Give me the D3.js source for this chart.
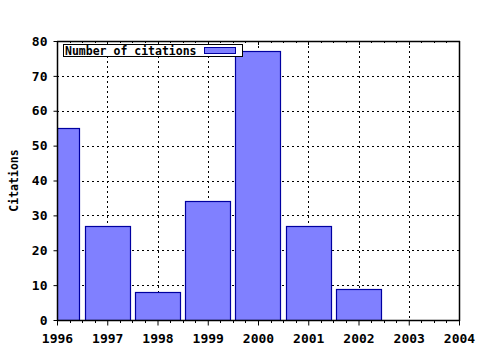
<!DOCTYPE html>
<html>
<head>
<meta charset="utf-8">
<script src="https://cdn.jsdelivr.net/npm/d3@7"></script>
<style>
  body { margin: 0; background: #fff; }
  text { font-family: "DejaVu Sans Mono", "Liberation Mono", monospace; font-weight: bold; }
</style>
</head>
<body>
<script>
(function all (){
  //chart data
  var years = [1996, 1997, 1998, 1999, 2000, 2001, 2002, 2003];
  var citations = [55, 27, 8, 34, 77, 27, 9, 0];
  var yTicks = [0, 10, 20, 30, 40, 50, 60, 70, 80];
  var xTicks = [1996, 1997, 1998, 1999, 2000, 2001, 2002, 2003, 2004];
  var seriesName = "Number of citations";
  var yTitle = "Citations";

  var width = 480, height = 350;
  var left = 57, right = 459, top = 41, bottom = 320;

  var svg = d3.select("body").append("svg")
    .attr("width", width)
    .attr("height", height);

  var x = d3.scaleLinear().domain([1996, 2004]).range([left, right]);
  var y = d3.scaleLinear().domain([0, 80]).range([bottom, top]);

  //clip for bars so the first one is cut at the axis
  svg.append("clipPath").attr("id", "plot")
    .append("rect")
    .attr("x", left).attr("y", top)
    .attr("width", right - left).attr("height", bottom - top);

  //dotted grid
  var grid = svg.append("g")
    .attr("stroke", "#000")
    .attr("stroke-width", 1)
    .attr("stroke-dasharray", "2,3");
  grid.selectAll(".hg")
    .data(yTicks.filter(function(d){ return d > 0 && d < 80; }))
    .enter().append("line")
    .attr("x1", left).attr("x2", right)
    .attr("y1", function(d){ return Math.round(y(d)) + 0.5; })
    .attr("y2", function(d){ return Math.round(y(d)) + 0.5; });
  grid.selectAll(".vg")
    .data(xTicks.filter(function(d){ return d > 1996 && d < 2004; }))
    .enter().append("line")
    .attr("y1", top).attr("y2", bottom)
    .attr("x1", function(d){ return Math.round(x(d)) + 0.5; })
    .attr("x2", function(d){ return Math.round(x(d)) + 0.5; });

  //bars, centered on the year
  var barW = (x(1997) - x(1996)) * 0.9;
  svg.append("g")
    .attr("clip-path", "url(#plot)")
    .selectAll("rect")
    .data(years.map(function(d, i){ return {year: d, value: citations[i]}; })
      .filter(function(d){ return d.value > 0; }))
    .enter().append("rect")
    .attr("x", function(d){ return Math.round(x(d.year) - barW / 2) + 0.5; })
    .attr("y", function(d){ return Math.round(y(d.value)) + 0.5; })
    .attr("width", Math.round(barW))
    .attr("height", function(d){ return Math.round(y(0)) - Math.round(y(d.value)); })
    .attr("fill", "#8080ff")
    .attr("stroke", "#0000a0")
    .attr("stroke-width", 1.2);

  //frame axes
  var xAxis = d3.axisBottom(x).tickValues(xTicks).tickFormat(d3.format("d"))
    .tickSize(5).tickPadding(8);
  var gx = svg.append("g")
    .attr("transform", "translate(0," + (bottom + 0.5) + ")")
    .call(xAxis);
  var yAxis = d3.axisLeft(y).tickValues(yTicks).tickSize(4).tickPadding(6);
  var gy = svg.append("g")
    .attr("transform", "translate(" + (left + 0.5) + ",0)")
    .call(yAxis);
  [gx, gy].forEach(function(g){
    g.select(".domain").remove();
    g.selectAll("line").attr("stroke", "#000");
    g.selectAll("text").attr("font-size", 13).attr("fill", "#000")
      .style("font-family", "DejaVu Sans Mono, monospace").style("font-weight", "bold");
  });

  //minor ticks every quarter year, below bottom and below top
  var minors = d3.range(1996, 2004.01, 0.25).filter(function(d){ return d % 1 !== 0; });
  svg.append("g").attr("stroke", "#000").selectAll("line")
    .data(minors).enter().append("line")
    .attr("x1", function(d){ return Math.round(x(d)) + 0.5; })
    .attr("x2", function(d){ return Math.round(x(d)) + 0.5; })
    .attr("y1", bottom).attr("y2", bottom + 3);
  svg.append("g").attr("stroke", "#000").selectAll("line")
    .data(d3.range(1996, 2004.01, 0.25)).enter().append("line")
    .attr("x1", function(d){ return Math.round(x(d)) + 0.5; })
    .attr("x2", function(d){ return Math.round(x(d)) + 0.5; })
    .attr("y1", top).attr("y2", function(d){ return top + (d % 1 === 0 ? 4 : 2); });

  //axis lines
  var frame = svg.append("g").attr("stroke", "#000").attr("stroke-width", 1.5);
  frame.append("line").attr("x1", left).attr("x2", right + 1).attr("y1", bottom + 0.5).attr("y2", bottom + 0.5);
  frame.append("line").attr("x1", left + 0.5).attr("x2", left + 0.5).attr("y1", top).attr("y2", bottom + 1);
  frame.append("line").attr("x1", left).attr("x2", right + 1).attr("y1", top + 0.5).attr("y2", top + 0.5);
  frame.append("line").attr("x1", right + 0.5).attr("x2", right + 0.5).attr("y1", top).attr("y2", bottom + 1);

  //y title
  svg.append("text")
    .attr("transform", "translate(18," + ((top + bottom) / 2) + ") rotate(-90)")
    .attr("text-anchor", "middle")
    .attr("font-size", 11.5)
    .text(yTitle);

  //legend
  var lg = svg.append("g");
  lg.append("rect")
    .attr("x", 63.5).attr("y", 44.5).attr("width", 179).attr("height", 12)
    .attr("fill", "#fff").attr("stroke", "#000");
  lg.append("text")
    .attr("x", 65).attr("y", 54.5)
    .attr("font-size", 11.5)
    .text(seriesName);
  lg.append("rect")
    .attr("x", 204.5).attr("y", 47.5).attr("width", 31).attr("height", 6)
    .attr("fill", "#8080ff").attr("stroke", "#0000a0");
})();
</script>
</body>
</html>
